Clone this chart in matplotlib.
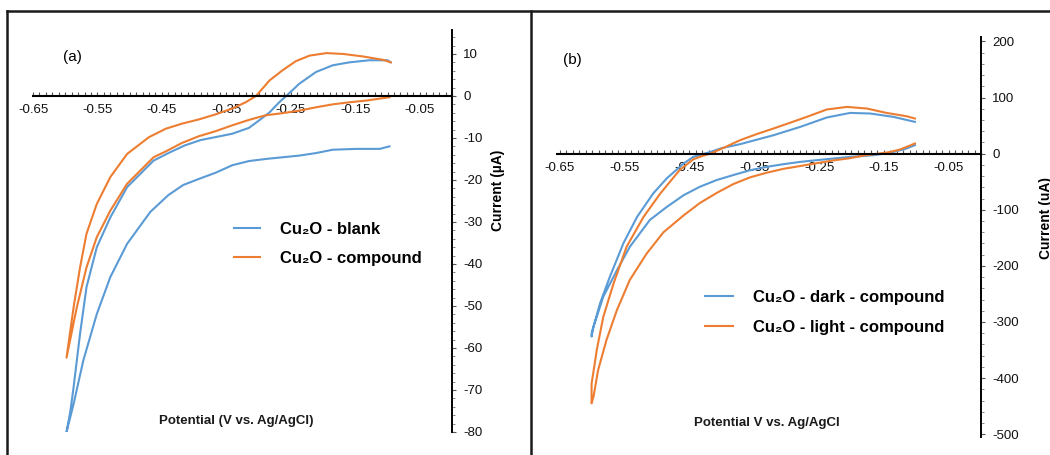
import matplotlib
matplotlib.use('Agg')
import matplotlib.pyplot as plt
from matplotlib.ticker import MultipleLocator, FixedLocator
from matplotlib.lines import Line2D

plt.rcParams['font.family'] = ['Liberation Sans', 'DejaVu Sans']
plt.rcParams['axes.unicode_minus'] = False

# (a) Cu2O blank / compound  (V vs Ag/AgCl, uA)
a_blank_v = [-0.097, -0.112, -0.148, -0.185, -0.211, -0.237, -0.263, -0.289, -0.315, -0.341,
             -0.367, -0.390, -0.417, -0.440, -0.468, -0.504, -0.530, -0.551, -0.572, -0.587,
             -0.598,
             -0.592, -0.587, -0.577, -0.567, -0.551, -0.530, -0.504, -0.463, -0.440, -0.415,
             -0.390, -0.367, -0.341, -0.315, -0.299, -0.283, -0.268, -0.255, -0.237, -0.211,
             -0.185, -0.159, -0.128, -0.100, -0.095]
a_blank_i = [-12.0, -12.6, -12.6, -12.8, -13.6, -14.2, -14.6, -15.0, -15.5, -16.5,
             -18.3, -19.6, -21.2, -23.6, -27.6, -35.2, -43.1, -51.9, -63.0, -73.3,
             -80.0,
             -75.0, -69.3, -56.6, -45.5, -36.0, -28.9, -21.7, -15.4, -13.6, -11.8,
             -10.5, -9.8, -9.0, -7.6, -5.8, -3.9, -1.5, 0.3, 2.9, 5.7,
             7.3, 8.0, 8.5, 8.5, 8.0]

a_comp_v = [-0.097, -0.133, -0.159, -0.185, -0.211, -0.237, -0.263, -0.289, -0.315, -0.341,
            -0.367, -0.393, -0.419, -0.444, -0.463, -0.504, -0.530, -0.551, -0.567, -0.582,
            -0.598, -0.587, -0.577, -0.567, -0.551, -0.530, -0.504, -0.470, -0.444, -0.419,
            -0.393, -0.367, -0.341, -0.320, -0.304, -0.283, -0.263, -0.242, -0.221, -0.195,
            -0.169, -0.138, -0.107, -0.095]
a_comp_i = [-0.3, -1.1, -1.5, -2.0, -2.7, -3.5, -4.1, -4.6, -5.7, -7.0,
            -8.4, -9.6, -11.2, -13.2, -14.6, -20.9, -27.3, -33.6, -40.8, -50.3,
            -62.3, -50.3, -40.8, -32.8, -25.7, -19.3, -13.8, -9.8, -7.8, -6.6,
            -5.6, -4.4, -3.0, -1.5, 0.0, 3.7, 6.1, 8.3, 9.6, 10.2,
            10.0, 9.4, 8.6, 8.0]

# (b) Cu2O dark / light with compound
b_dark_v = [-0.102, -0.118, -0.135, -0.150, -0.166, -0.202, -0.228, -0.254, -0.279, -0.305,
            -0.331, -0.356, -0.382, -0.408, -0.434, -0.459, -0.485, -0.511, -0.542, -0.562,
            -0.583, -0.598, -0.601,
            -0.601, -0.596, -0.588, -0.573, -0.552, -0.531, -0.506, -0.485, -0.459, -0.444,
            -0.430, -0.418, -0.400, -0.372, -0.346, -0.320, -0.279, -0.238, -0.202, -0.171,
            -0.135, -0.102]
b_dark_i = [15.2, 8.0, 3.2, 0.0, -2.7, -5.7, -8.6, -11.6, -14.6, -18.7,
            -23.5, -29.4, -38.0, -47.0, -59.0, -74.0, -95.0, -118.0, -166.0, -208.0,
            -255.0, -308.0, -326.0,
            -320.0, -300.0, -267.0, -220.0, -160.0, -113.0, -71.0, -44.0, -17.5, -5.7,
            -1.0, 3.0, 10.0, 16.9, 25.0, 33.0, 47.8, 64.5, 72.7, 71.6,
            65.6, 56.7]

b_light_v = [-0.102, -0.115, -0.125, -0.140, -0.156, -0.180, -0.202, -0.228, -0.254, -0.279,
             -0.305, -0.331, -0.356, -0.382, -0.408, -0.434, -0.459, -0.490, -0.516, -0.542,
             -0.562, -0.578, -0.591, -0.598, -0.601,
             -0.601, -0.593, -0.583, -0.567, -0.547, -0.521, -0.495, -0.465, -0.444, -0.430,
             -0.418, -0.400, -0.372, -0.346, -0.320, -0.295, -0.269, -0.238, -0.207, -0.176,
             -0.146, -0.115, -0.102]
b_light_i = [18.2, 12.0, 7.5, 3.0, 0.4, -3.0, -8.0, -12.0, -17.0, -22.0,
             -27.0, -34.0, -42.0, -54.0, -70.0, -88.0, -110.0, -140.0, -178.0, -225.0,
             -279.0, -332.0, -386.0, -433.0, -445.0,
             -410.0, -350.0, -291.0, -231.0, -166.0, -113.0, -71.0, -29.0, -10.0, -4.0,
             0.0, 9.0, 24.0, 35.0, 45.0, 55.0, 65.6, 78.8, 83.4, 80.5,
             72.7, 66.8, 62.7]

x_labels = [-0.65, -0.55, -0.45, -0.35, -0.25, -0.15, -0.05]

blue = '#5b9bd5'
orange = '#ed7d31'

fig = plt.figure(figsize=(10.5, 4.55), dpi=100)
W, H = 1050, 455


def setup(ax, ymaj, ymin):
    ax.spines['top'].set_visible(False)
    ax.spines['left'].set_visible(False)
    ax.spines['bottom'].set_position(('data', 0))
    ax.spines['bottom'].set_linewidth(1.5)
    ax.spines['right'].set_linewidth(1.4)
    ax.yaxis.tick_right()
    ax.xaxis.set_major_locator(FixedLocator(x_labels))
    ax.xaxis.set_minor_locator(MultipleLocator(0.01))
    ax.xaxis.set_major_formatter(plt.FuncFormatter(lambda v, p: '%.2f' % v))
    ax.yaxis.set_major_locator(MultipleLocator(ymaj))
    ax.yaxis.set_minor_locator(MultipleLocator(ymin))
    ax.tick_params(axis='x', which='both', direction='in', length=3, width=0.8,
                   color='#555555', labelsize=9.5, pad=6, labelcolor='#111111')
    ax.tick_params(axis='y', which='major', direction='out', length=3, width=0.8,
                   color='#555555', labelsize=9.5, pad=5, labelcolor='#111111')
    ax.tick_params(axis='y', which='minor', direction='out', length=2, width=0.6,
                   color='#777777')


ax1 = fig.add_axes([33 / W, (H - 432) / H, 419 / W, 402 / H])
ax1.plot(a_blank_v, a_blank_i, color=blue, lw=1.5, label='Cu\u2082O - blank')
ax1.plot(a_comp_v, a_comp_i, color=orange, lw=1.5, label='Cu\u2082O - compound')
ax1.set_xlim(-0.65, 0)
ax1.set_ylim(-80, 15.7)
setup(ax1, 10, 2)
ax1.legend(loc='upper left', bbox_to_anchor=(234 / W, (H - 222) / H),
           bbox_transform=fig.transFigure, frameon=False, borderpad=0, borderaxespad=0,
           handlelength=1.55, handletextpad=1.2, labelspacing=0.85,
           prop={'weight': 'bold', 'size': 12})

ax2 = fig.add_axes([556.6 / W, (H - 437) / H, (981 - 556.6) / W, 400 / H])
ax2.plot(b_dark_v, b_dark_i, color=blue, lw=1.5, label='Cu\u2082O - dark - compound')
ax2.plot(b_light_v, b_light_i, color=orange, lw=1.5, label='Cu\u2082O - light - compound')
ax2.set_xlim(-0.655, 0)
ax2.set_ylim(-505, 208)
setup(ax2, 100, 20)
ax2.legend(loc='upper left', bbox_to_anchor=(705 / W, (H - 290) / H),
           bbox_transform=fig.transFigure, frameon=False, borderpad=0, borderaxespad=0,
           handlelength=1.65, handletextpad=1.25, labelspacing=0.9,
           prop={'weight': 'bold', 'size': 12})

# panel texts
fig.text(72 / W, 1 - 57 / H, '(a)', fontsize=11, ha='center', va='center')
fig.text(572 / W, 1 - 60 / H, '(b)', fontsize=11, ha='center', va='center')
fig.text(498 / W, 1 - 190 / H, 'Current (\u00b5A)', rotation=90, fontsize=10,
         fontweight='bold', ha='center', va='center')
fig.text(1046 / W, 1 - 218 / H, 'Current (uA)', rotation=90, fontsize=10,
         fontweight='bold', ha='center', va='center')
fig.text(236 / W, 1 - 421 / H, 'Potential (V vs. Ag/AgCl)', fontsize=9.5,
         fontweight='bold', ha='center', va='center', color='#1a1a1a')
fig.text(767 / W, 1 - 423 / H, 'Potential V vs. Ag/AgCl', fontsize=9.5,
         fontweight='bold', ha='center', va='center', color='#1a1a1a')

# panel borders
for xs, ys in [([7, 1050], [11, 11]), ([7, 7], [11, 455]), ([531, 531], [11, 455])]:
    fig.add_artist(Line2D([x / W for x in xs], [1 - y / H for y in ys],
                          transform=fig.transFigure, color='#1a1a1a', lw=1.8))

fig.savefig('out.png', dpi=100)
